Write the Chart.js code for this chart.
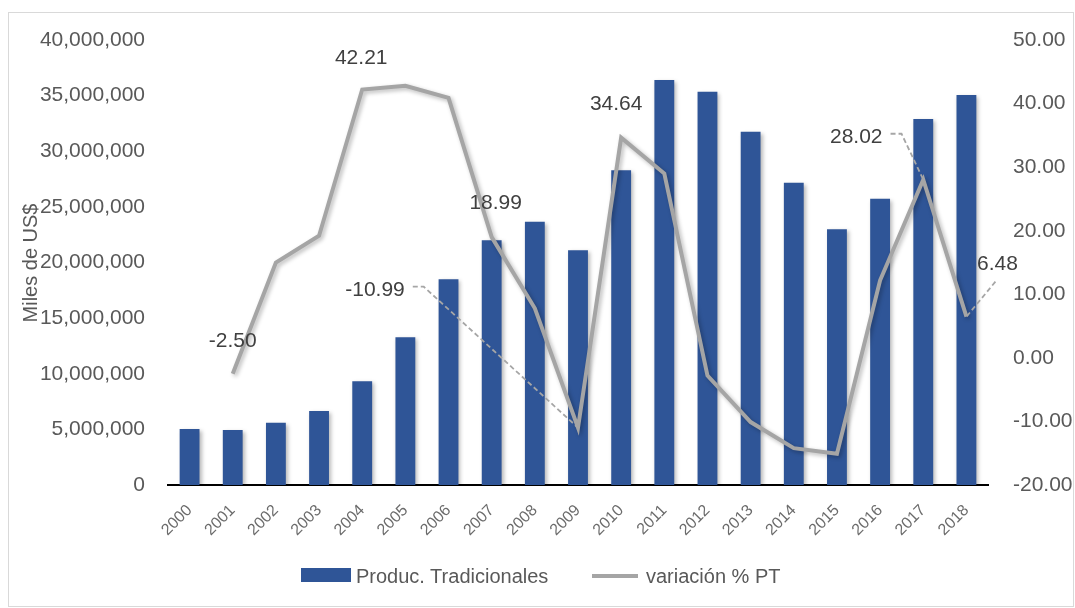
<!DOCTYPE html>
<html>
<head>
<meta charset="utf-8">
<script src="https://cdn.jsdelivr.net/npm/chart.js@4.4.1/dist/chart.umd.min.js"></script>
<style>
  body { margin: 0; background: #fff; }
  #wrap { position: relative; width: 1075px; height: 608px; font-family: "Liberation Sans", Arial, sans-serif; }
  #frame { position: absolute; left: 8px; top: 12px; width: 1066px; height: 595px; border: 1px solid #D9D9D9; box-sizing: border-box; pointer-events: none; }
  #legend { position: absolute; top: 565px; left: 0; width: 1075px; height: 24px; font-size: 20px; color: #595959; }
  #legend span { position: absolute; white-space: nowrap; }
</style>
</head>
<body>
<div id="wrap">
  <canvas id="chart" width="1075" height="608"></canvas>
  <div id="frame"></div>
  <div id="legend">
    <span style="left:301px;top:3px;width:50px;height:14px;background:#2F5597;"></span>
    <span id="lg1" style="left:356px;top:0;"></span>
    <span style="left:592px;top:9px;width:46px;height:4px;background:#A5A5A5;"></span>
    <span id="lg2" style="left:646px;top:0;"></span>
  </div>
</div>
<script>
// años
const years = ['2000','2001','2002','2003','2004','2005','2006','2007','2008','2009',
               '2010','2011','2012','2013','2014','2015','2016','2017','2018'];

// Produc. Tradicionales (miles de US$)
const prodTradicionales = [5030000, 4940000, 5600000, 6650000, 9320000, 13280000, 18500000,
  22000000, 23670000, 21100000, 28300000, 36400000, 35350000, 31760000, 27170000,
  23000000, 25730000, 32900000, 35060000];

// variación % PT
const variacionPT = [null, -2.50, 15.0, 19.2, 42.21, 42.8, 40.9, 18.99, 7.8, -10.99,
  34.64, 29.0, -2.8, -10.1, -14.2, -15.1, 12.2, 28.02, 6.48];

// etiquetas de datos visibles
const labeledIdx = [1, 4, 7, 9, 10, 17, 18];

const leftTicks = [0, 5000000, 10000000, 15000000, 20000000, 25000000, 30000000, 35000000, 40000000];
const rightTicks = [-20, -10, 0, 10, 20, 30, 40, 50];

const serieBarras = 'Produc. Tradicionales';
const serieLinea = 'variación % PT';
document.getElementById('lg1').textContent = serieBarras;
document.getElementById('lg2').textContent = serieLinea;

// posicion de cada etiqueta respecto al punto (px)
const labelPlacement = {
  1:  { dx: 0,    dy: -33 },
  4:  { dx: -1,   dy: -31 },
  7:  { dx: 4,    dy: -34 },
  9:  { dx: -203, dy: -138, leader: 'right' },
  10: { dx: -5,   dy: -33 },
  17: { dx: -67,  dy: -43, leader: 'right' },
  18: { dx: 31,   dy: -52, leader: 'below' }
};

const FONT = '"Liberation Sans", Arial, sans-serif';
const GRAY_TXT = '#595959';

// sombra de barras y linea
const shadowPlugin = {
  id: 'shadow',
  beforeDatasetDraw(chart) {
    const ctx = chart.ctx;
    ctx.save();
    ctx.shadowColor = 'rgba(0,0,0,0.28)';
    ctx.shadowBlur = 4;
    ctx.shadowOffsetX = 2;
    ctx.shadowOffsetY = 2;
  },
  afterDatasetDraw(chart) {
    chart.ctx.restore();
  }
};

// titulo del eje y etiquetas con lineas guia
const extrasPlugin = {
  id: 'extras',
  afterDraw(chart) {
    const ctx = chart.ctx;
    ctx.save();
    ctx.font = '20px ' + FONT;
    ctx.fillStyle = GRAY_TXT;
    ctx.translate(31, 263);
    ctx.rotate(-Math.PI / 2);
    ctx.textAlign = 'center';
    ctx.textBaseline = 'middle';
    ctx.fillText('Miles de US$', 0, 0);
    ctx.restore();

    const meta = chart.getDatasetMeta(1);
    ctx.save();
    ctx.font = '21px ' + FONT;
    ctx.textAlign = 'center';
    ctx.textBaseline = 'middle';
    labeledIdx.forEach(i => {
      const pt = meta.data[i];
      const p = labelPlacement[i];
      const tx = pt.x + p.dx;
      const ty = pt.y + p.dy;
      const txt = variacionPT[i].toFixed(2);
      const w = ctx.measureText(txt).width;
      if (p.leader) {
        ctx.save();
        ctx.strokeStyle = '#A6A6A6';
        ctx.lineWidth = 1.8;
        ctx.setLineDash([5, 3]);
        ctx.beginPath();
        if (p.leader === 'right') {
          const sx = tx + w / 2 + 8;
          const sy = ty - 3;
          ctx.moveTo(sx, sy);
          ctx.lineTo(sx + 11, sy);
          ctx.lineTo(pt.x, pt.y);
        } else {
          ctx.moveTo(tx - 2, ty + 17);
          ctx.lineTo(pt.x, pt.y);
        }
        ctx.stroke();
        ctx.restore();
      }
      ctx.fillStyle = '#404040';
      ctx.fillText(txt, tx, ty);
    });
    ctx.restore();
  }
};

new Chart(document.getElementById('chart'), {
  data: {
    labels: years,
    datasets: [
      {
        type: 'bar',
        label: serieBarras,
        data: prodTradicionales,
        backgroundColor: '#2F5597',
        categoryPercentage: 1.0,
        barPercentage: 0.46,
        yAxisID: 'y',
        order: 2
      },
      {
        type: 'line',
        label: serieLinea,
        data: variacionPT,
        borderColor: '#A5A5A5',
        borderWidth: 4,
        pointRadius: 0,
        tension: 0,
        spanGaps: false,
        yAxisID: 'y1',
        order: 1
      }
    ]
  },
  options: {
    responsive: false,
    animation: false,
    layout: { padding: { top: 40, left: 0, right: 0, bottom: 0 } },
    plugins: {
      legend: { display: false },
      tooltip: { enabled: false }
    },
    scales: {
      x: {
        grid: { display: false, drawTicks: false },
        border: { display: true, color: '#000', width: 2 },
        ticks: {
          color: '#6b6b6b',
          font: { family: FONT, size: 16 },
          minRotation: 45,
          maxRotation: 45,
          padding: 16,
          autoSkip: false
        },
        afterFit(scale) { scale.height = 123; }
      },
      y: {
        position: 'left',
        min: 0,
        max: 40000000,
        grid: { display: false, drawTicks: false },
        border: { display: false },
        afterBuildTicks(scale) { scale.ticks = leftTicks.map(v => ({ value: v })); },
        ticks: {
          color: GRAY_TXT,
          font: { family: FONT, size: 21 },
          padding: 23,
          callback: v => v.toLocaleString('en-US')
        },
        afterFit(scale) { scale.width = 168; }
      },
      y1: {
        position: 'right',
        min: -20,
        max: 50,
        grid: { display: false, drawTicks: false },
        border: { display: false },
        afterBuildTicks(scale) { scale.ticks = rightTicks.map(v => ({ value: v })); },
        ticks: {
          color: GRAY_TXT,
          font: { family: FONT, size: 21 },
          padding: 25,
          callback: v => v.toFixed(2)
        },
        afterFit(scale) { scale.width = 87; }
      }
    }
  },
  plugins: [shadowPlugin, extrasPlugin]
});
</script>
</body>
</html>
